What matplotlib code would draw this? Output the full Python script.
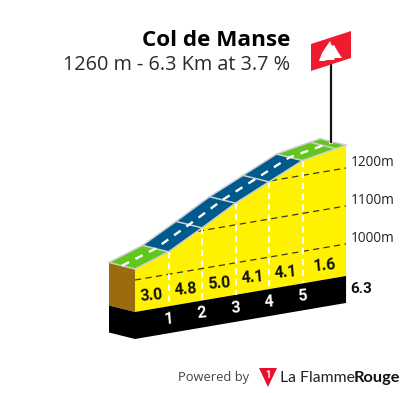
import matplotlib
matplotlib.use("Agg")
import matplotlib.pyplot as plt
from matplotlib.patches import Polygon

# data
km = [0, 1, 2, 3, 4, 5, 6.3]
elevation = [1029, 1059, 1107, 1157, 1198, 1239, 1260]
gradient = [3.0, 4.8, 5.0, 4.1, 4.1, 1.6]
segment_kind = ["flat", "mid", "mid", "mid", "mid", "flat"]
km_ticks = [1, 2, 3, 4, 5]
road_marks = [0, 1, 2, 3, 4, 5, 6, 6.3]
ele_ticks = [1000, 1100, 1200]
title = "Col de Manse"
subtitle = "1260 m - 6.3 Km at 3.7 %"
total_label = "6.3"

YELLOW = "#fff200"
COLORS = {"flat": "#62c61e", "mid": "#005a8c"}
GREY = "#cfcfcf"
NARROW = ["Liberation Sans Narrow", "Roboto"]

# scale of the pseudo 3D view, in image pixels
X0, Y1000 = 135.0, 280.0
PX_KM = 33.5
TILT = 5.72       # px the ground rises per km
PX_M = 0.38
FLOOR = 1000 - 32 / PX_M
BAND = 27
DX, DY = -26.0, -6.5


def px(k, e):
    return X0 + PX_KM * k, Y1000 - TILT * k - (e - 1000) * PX_M


def ele_at(k):
    for i in range(len(km) - 1):
        if k <= km[i + 1]:
            f = (k - km[i]) / (km[i + 1] - km[i])
            return elevation[i] + f * (elevation[i + 1] - elevation[i])
    return elevation[-1]


def back(p):
    return p[0] + DX, p[1] + DY


fig = plt.figure(figsize=(4.05, 3.93), dpi=100)
ax = fig.add_axes([0, 0, 1, 1])
ax.set_xlim(0, 405)
ax.set_ylim(393, 0)
ax.axis("off")

front = [px(k, e) for k, e in zip(km, elevation)]
floor_l, floor_r = px(km[0], FLOOR), px(km[-1], FLOOR)

# yellow wall and black band
wall = Polygon(front + [floor_r, floor_l], fc=YELLOW, ec="none")
ax.add_patch(wall)
ax.add_patch(Polygon([floor_l, floor_r, (floor_r[0], floor_r[1] + BAND),
                      (floor_l[0], floor_l[1] + BAND)], fc="black", ec="none"))

# left side
fl = front[0]
ax.add_patch(Polygon([back(fl), fl, floor_l, back(floor_l)], fc="#9a6c0c", ec="none"))
ax.add_patch(Polygon([back(floor_l), floor_l, (floor_l[0], floor_l[1] + BAND),
                      (back(floor_l)[0], back(floor_l)[1] + BAND)], fc="black", ec="none"))

# elevation grid, only on the wall
for e in ele_ticks:
    a, b = px(km[0], e), px(km[-1], e)
    line, = ax.plot([a[0], b[0]], [a[1], b[1]], color="#3a3a1a", lw=0.9, dashes=(5, 3.5))
    line.set_clip_path(wall)
    ax.text(351, b[1] - 5, f"{e}m", fontsize=9.8, family="Open Sans",
            color="#222222", ha="left", va="center")

# km markers
for k in km_ticks:
    a, b = px(k, ele_at(k)), px(k, FLOOR)
    ax.plot([a[0], b[0]], [a[1], b[1]], color="white", lw=1.4, dashes=(3.2, 2.4))
    ax.text(b[0], b[1] + 13, str(k), fontsize=11.5, family=NARROW, weight="bold",
            color="white", ha="center", va="center", rotation=5)

# road surface
for i, kind in enumerate(segment_kind):
    p, q = front[i], front[i + 1]
    ax.add_patch(Polygon([p, q, back(q), back(p)], fc=COLORS[kind], ec="none", zorder=3))
for k in road_marks:
    p = px(k, ele_at(k))
    ax.plot([p[0], back(p)[0]], [p[1], back(p)[1]], color=GREY, lw=1.1, zorder=4,
            solid_capstyle="round")
ax.plot([p[0] for p in front], [p[1] for p in front], color=GREY, lw=1.1, zorder=4)
ax.plot([back(p)[0] for p in front], [back(p)[1] for p in front], color=GREY, lw=1.1, zorder=4)
ax.plot([p[0] + DX / 2 for p in front], [p[1] + DY / 2 for p in front],
        color="white", lw=1.7, dashes=(3.4, 3.0), zorder=5)

# gradient labels
for i, g in enumerate(gradient):
    k = (km[i] + km[i + 1]) / 2
    x, y = px(k, FLOOR)
    ax.text(x, y - 14, f"{g:.1f}", fontsize=11.5, family=NARROW, weight="bold",
            color="#111111", ha="center", va="center", rotation=5)
ax.text(350, floor_r[1] + 13, total_label, fontsize=11, family=NARROW, weight="bold",
        color="#111111", ha="left", va="center")

# summit flag
ax.plot([330.5, 330.5], [142, 62], color="#151515", lw=1.6, zorder=6)
ax.add_patch(Polygon([(311, 44), (351, 31), (351, 58), (311, 71)], fc="#ee1c2e", ec="none", zorder=7))
ax.add_patch(Polygon([(319, 61), (322, 53), (326, 47), (330, 41), (332, 46), (334, 45),
                      (338, 52), (342, 58), (335, 58), (334, 60), (327, 60), (324, 61)],
                     fc="white", ec="none", zorder=8))

# titles
ax.text(290, 46, title, fontsize=16.2, family="Open Sans", weight="bold",
        color="black", ha="right", va="baseline")
ax.text(290, 70, subtitle, fontsize=14.35, family="Open Sans",
        color="#2a2a2a", ha="right", va="baseline")

# footer
ax.text(249, 381, "Powered by", fontsize=9.3, family="Open Sans", color="#444444",
        ha="right", va="baseline")
ax.add_patch(Polygon([(259, 368), (277, 368), (268, 387)], fc="#e8112d", ec="none"))
ax.text(268, 375, "1", fontsize=7, family="Roboto", weight="bold", color="white",
        ha="center", va="center")
ax.text(280, 382, "La Flamme", fontsize=11.3, family="Lato", color="#222222",
        ha="left", va="baseline")
ax.text(400, 382, "Rouge", fontsize=11.8, family="Lato", weight="bold", color="#111111",
        ha="right", va="baseline")

fig.savefig("out.png", dpi=100)
